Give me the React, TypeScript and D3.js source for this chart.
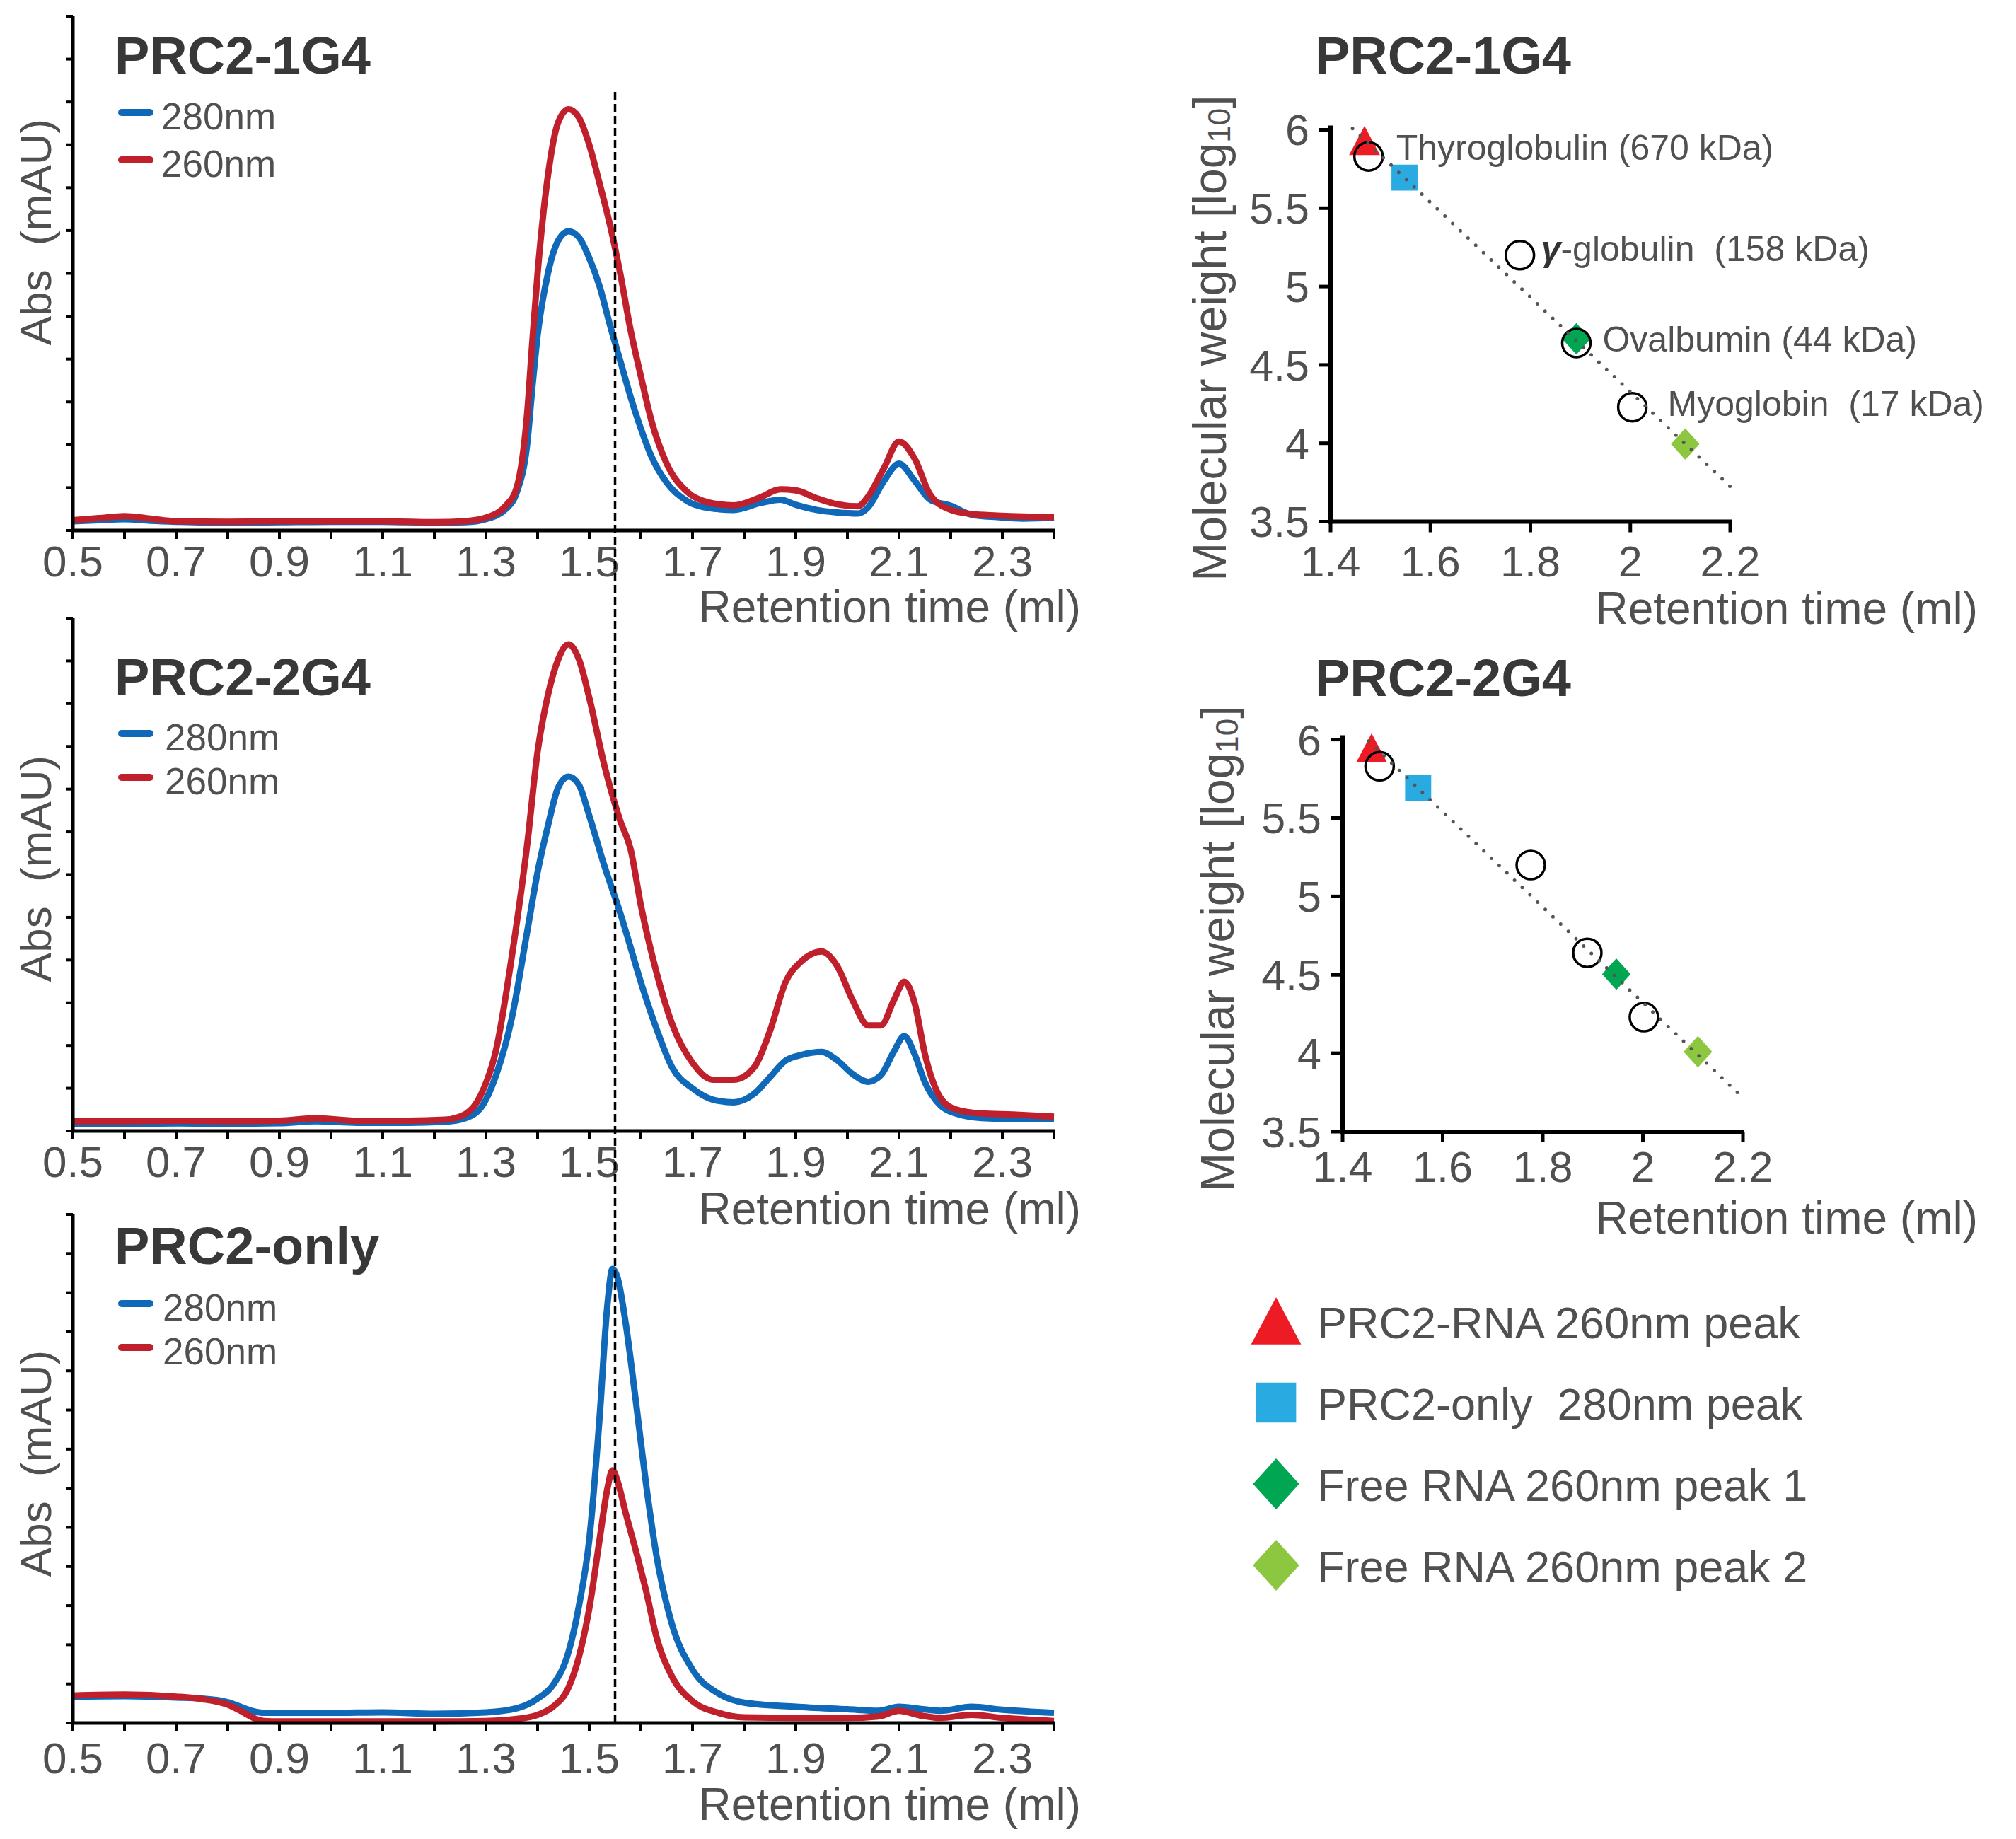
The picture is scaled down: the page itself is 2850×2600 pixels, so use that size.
import React from "react";
import * as d3 from "d3";

// ---- chromatograms (Abs, arbitrary units, 0-100 = axis height) ----
const time1 = [0.5, 0.55, 0.6, 0.65, 0.7, 0.8, 0.9, 1.0, 1.1, 1.2, 1.26, 1.3, 1.34, 1.36, 1.38, 1.39, 1.4, 1.42, 1.44, 1.46, 1.48, 1.5, 1.52, 1.54, 1.56, 1.58, 1.6, 1.62, 1.65, 1.69, 1.73, 1.78, 1.83, 1.87, 1.9, 1.94, 1.98, 2.02, 2.04, 2.07, 2.1, 2.13, 2.16, 2.2, 2.24, 2.29, 2.34, 2.4];
const abs280_1 = [1.8, 2.0, 2.2, 1.9, 1.7, 1.5, 1.6, 1.7, 1.7, 1.5, 1.6, 2.2, 4.3, 7.5, 17, 28, 38, 50, 56.4, 58.2, 57, 53, 47.5, 40, 33, 26, 19.8, 14.5, 9.3, 5.7, 4.4, 4.0, 5.3, 6.0, 5.0, 4.0, 3.5, 3.3, 4.5, 9.5, 13.0, 9.7, 6.0, 4.8, 3.1, 2.6, 2.3, 2.5];
const abs260_1 = [2.0, 2.4, 2.8, 2.3, 1.8, 1.7, 1.8, 1.8, 1.8, 1.6, 1.8, 2.5, 5.0, 8.5, 23, 37, 50, 69, 79.4, 81.9, 80.3, 75, 67.5, 59.5, 50, 39, 30, 21.5, 13, 7.5, 5.5, 4.9, 6.4, 8.0, 7.8, 6.3, 5.1, 4.7, 6.6, 12, 17.3, 14, 7.0, 4.0, 3.2, 2.9, 2.7, 2.6];

const time2 = [0.5, 0.6, 0.7, 0.8, 0.9, 0.97, 1.05, 1.15, 1.22, 1.26, 1.29, 1.32, 1.35, 1.38, 1.4, 1.42, 1.44, 1.46, 1.48, 1.5, 1.53, 1.56, 1.58, 1.6, 1.63, 1.66, 1.7, 1.74, 1.78, 1.82, 1.85, 1.88, 1.91, 1.95, 1.98, 2.01, 2.04, 2.065, 2.09, 2.11, 2.13, 2.15, 2.18, 2.21, 2.26, 2.32, 2.4];
const abs280_2 = [1.4, 1.4, 1.5, 1.4, 1.5, 1.9, 1.6, 1.6, 1.8, 2.5, 4.5, 11, 22, 39, 50.5, 59.5, 67, 69.1, 67.5, 61.5, 51.5, 42.5, 35.8, 29, 20, 12.5, 8.3, 6.1, 5.6, 7.3, 10.5, 13.7, 14.8, 15.4, 13.8, 11.1, 9.6, 10.9, 15.5, 18.5, 15, 9.5, 5.0, 3.4, 2.5, 2.3, 2.3];
const abs260_2 = [1.9, 1.9, 2.0, 1.9, 2.0, 2.5, 2.0, 2.0, 2.2, 3.3, 7, 16, 34, 56, 74, 85, 92, 94.9, 92, 84.5, 71, 60.5, 55, 44, 31, 21, 13.3, 10, 10, 12.5, 19.5, 29, 33, 35, 32.2, 25.5, 20.6, 20.6, 25.5, 29.1, 25, 15, 6.5, 4.2, 3.4, 3.2, 2.8];

const time3 = [0.5, 0.6, 0.7, 0.75, 0.8, 0.83, 0.85, 0.87, 0.9, 1.0, 1.1, 1.2, 1.3, 1.36, 1.4, 1.43, 1.46, 1.48, 1.5, 1.52, 1.535, 1.545, 1.555, 1.57, 1.59, 1.61, 1.63, 1.66, 1.7, 1.75, 1.8, 1.9, 2.0, 2.06, 2.1, 2.14, 2.18, 2.24, 2.3, 2.4];
const abs280_3 = [5.2, 5.3, 5.0, 4.8, 4.1, 3.0, 2.3, 2.0, 2.0, 2.0, 2.1, 1.8, 2.1, 2.9, 4.8, 7.5, 14, 23, 36, 60, 82, 89.3, 87.5, 79, 63.5, 47, 33, 19.5, 10.5, 5.8, 4.0, 3.2, 2.7, 2.4, 3.2, 2.8, 2.4, 3.2, 2.6, 2.0];
const abs260_3 = [5.4, 5.6, 5.2, 4.7, 3.6, 2.1, 1.0, 0.4, 0.3, 0.3, 0.3, 0.3, 0.4, 0.8, 1.6, 3.2, 7, 13, 22.5, 36, 46, 49.7, 47.5, 41.5, 34, 26, 17, 9.2, 4.3, 2.0, 1.1, 1.0, 1.0, 1.3, 2.4, 1.5, 1.0, 1.6, 1.0, 0.4];

const chromMinorTicks = [0.5, 0.6, 0.7, 0.8, 0.9, 1.0, 1.1, 1.2, 1.3, 1.4, 1.5, 1.6, 1.7, 1.8, 1.9, 2.0, 2.1, 2.2, 2.3, 2.4];
const chromTickLabels = [0.5, 0.7, 0.9, 1.1, 1.3, 1.5, 1.7, 1.9, 2.1, 2.3];
const referenceTime = 1.55;

// ---- calibration (log10 MW vs retention) ----
const standardNames = ["Thyroglobulin (670 kDa)", "-globulin  (158 kDa)", "Ovalbumin (44 kDa)", "Myoglobin  (17 kDa)"];
const standardLogMW = [5.83, 5.2, 4.64, 4.23];
const standardRT_1G4 = [1.476, 1.779, 1.892, 2.004];
const standardRT_2G4 = [1.474, 1.776, 1.889, 2.002];

const sampleNames = ["PRC2-RNA 260nm peak", "PRC2-only  280nm peak", "Free RNA 260nm peak 1", "Free RNA 260nm peak 2"];
const sampleRT_1G4 = [1.468, 1.548, 1.892, 2.11];
const sampleMW_1G4 = [5.93, 5.695, 4.667, 3.995];
const sampleRT_2G4 = [1.458, 1.551, 1.947, 2.11];
const sampleMW_2G4 = [5.945, 5.69, 4.504, 4.01];

const fitRT_1G4 = [1.444, 2.2];
const fitMW_1G4 = [6.008, 3.724];
const fitRT_2G4 = [1.452, 2.2];
const fitMW_2G4 = [5.99, 3.716];

const calXTicks = [1.4, 1.6, 1.8, 2, 2.2];
const calYTicks = [3.5, 4, 4.5, 5, 5.5, 6];

const FONT = "'Liberation Sans', Arial, Helvetica, sans-serif";
const GRAY = "#505050";
const TITLE = "#383838";
const BLUE = "#1069b8";
const RED = "#c0202b";
const sampleColors = ["#ed1c24", "#29abe2", "#00a651", "#8dc63f"];
const sampleShapes = ["triangle", "square", "diamond", "diamond"];

function markerPath(shape: string, cx: number, cy: number, s: number) {
  const p = d3.path();
  if (shape === "triangle") {
    p.moveTo(cx, cy - s * 0.5);
    p.lineTo(cx + s * 0.52, cy + s * 0.48);
    p.lineTo(cx - s * 0.52, cy + s * 0.48);
    p.closePath();
  } else if (shape === "square") {
    const h = s * 0.45;
    p.rect(cx - h, cy - h, 2 * h, 2 * h);
  } else {
    p.moveTo(cx, cy - s * 0.53);
    p.lineTo(cx + s * 0.48, cy);
    p.lineTo(cx, cy + s * 0.53);
    p.lineTo(cx - s * 0.48, cy);
    p.closePath();
  }
  return p.toString();
}

interface ChromProps {
  title: string;
  time: number[];
  a280: number[];
  a260: number[];
  top: number;
  bottom: number;
  nTicks: number;
  titleY: number;
  legY: number[];
  legTextX: number;
  yLabelY: number;
  tickLabelY: number;
  xLabelY: number;
}

const X0 = 103;
const X1 = 1490;
const xChrom = d3.scaleLinear().domain([0.5, 2.4]).range([X0, X1]);

const ChromPanel: React.FC<ChromProps> = (p) => {
  const y = d3.scaleLinear().domain([0, 100]).range([p.bottom, p.top]);
  const line = (vals: number[]) =>
    d3
      .line<number>()
      .x((_, i) => xChrom(p.time[i]))
      .y((d) => y(d))
      .curve(d3.curveMonotoneX)(vals) || "";
  const yTicks = d3.range(p.nTicks + 1).map((i) => (i * 100) / p.nTicks);
  return (
    <g>
      <path d={line(p.a280)} fill="none" stroke={BLUE} strokeWidth={9} strokeLinejoin="round" />
      <path d={line(p.a260)} fill="none" stroke={RED} strokeWidth={9} strokeLinejoin="round" />
      {/* axes */}
      <line x1={X0} x2={X0} y1={p.top} y2={p.bottom + 2} stroke="#000" strokeWidth={5} />
      <line x1={X0 - 2} x2={X1 + 2} y1={p.bottom} y2={p.bottom} stroke="#000" strokeWidth={5} />
      {yTicks.map((t) => (
        <line key={t} x1={X0 - 9} x2={X0} y1={y(t)} y2={y(t)} stroke="#000" strokeWidth={4} />
      ))}
      {chromMinorTicks.map((t) => (
        <line key={t} x1={xChrom(t)} x2={xChrom(t)} y1={p.bottom} y2={p.bottom + 12} stroke="#000" strokeWidth={4} />
      ))}
      {chromTickLabels.map((t) => (
        <text key={t} x={xChrom(t)} y={p.tickLabelY} textAnchor="middle" fontSize={62} fill={GRAY}>
          {t.toFixed(1)}
        </text>
      ))}
      <text x={1528} y={p.xLabelY} textAnchor="end" fontSize={64} fill={GRAY}>
        Retention time (ml)
      </text>
      <text
        transform={`translate(50,${p.yLabelY}) rotate(-90)`}
        textAnchor="middle"
        dominantBaseline="central"
        fontSize={62}
        fill={GRAY}
        style={{ whiteSpace: "pre" }}
      >
        Abs  (mAU)
      </text>
      <text x={162} y={p.titleY} fontSize={74} fontWeight="bold" fill={TITLE}>
        {p.title}
      </text>
      {[
        { label: "280nm", color: BLUE },
        { label: "260nm", color: RED },
      ].map((l, i) => (
        <g key={l.label}>
          <line x1={172} x2={212} y1={p.legY[i]} y2={p.legY[i]} stroke={l.color} strokeWidth={10} strokeLinecap="round" />
          <text x={p.legTextX} y={p.legY[i] + 24} fontSize={53} fill={GRAY}>
            {l.label}
          </text>
        </g>
      ))}
    </g>
  );
};

interface CalProps {
  title: string;
  titleY: number;
  x0: number;
  x1: number;
  top: number;
  bottom: number;
  stdRT: number[];
  sRT: number[];
  sMW: number[];
  fitRT: number[];
  fitMW: number[];
  yLabelX: number;
  yLabelY: number;
  tickLabelY: number;
  xLabelY: number;
  showNames: boolean;
}

const labelOffsets = [
  [39, 5],
  [30, 8],
  [37, 12],
  [50, 12],
];

const CalPanel: React.FC<CalProps> = (p) => {
  const x = d3.scaleLinear().domain([1.4, 2.2]).range([p.x0, p.x1]);
  const y = d3.scaleLinear().domain([3.5, 6]).range([p.bottom, p.top]);
  const fit = d3
    .line<number>()
    .x((_, i) => x(p.fitRT[i]))
    .y((d) => y(d))(p.fitMW) || "";
  return (
    <g>
      <line x1={p.x0} x2={p.x0} y1={p.top - 6} y2={p.bottom + 3} stroke="#000" strokeWidth={6} />
      <line x1={p.x0 - 3} x2={p.x1 + 2} y1={p.bottom} y2={p.bottom} stroke="#000" strokeWidth={6} />
      {calYTicks.map((t) => (
        <g key={t}>
          <line x1={p.x0 - 17} x2={p.x0} y1={y(t)} y2={y(t)} stroke="#000" strokeWidth={5} />
          <text x={p.x0 - 30} y={y(t)} dy="0.36em" textAnchor="end" fontSize={61} fill={GRAY}>
            {String(t)}
          </text>
        </g>
      ))}
      {calXTicks.map((t) => (
        <g key={t}>
          <line x1={x(t)} x2={x(t)} y1={p.bottom} y2={p.bottom + 15} stroke="#000" strokeWidth={5} />
          <text x={x(t)} y={p.tickLabelY} textAnchor="middle" fontSize={61} fill={GRAY}>
            {String(t)}
          </text>
        </g>
      ))}
      <text x={2796} y={p.xLabelY} textAnchor="end" fontSize={64} fill={GRAY}>
        Retention time (ml)
      </text>
      <text
        transform={`translate(${p.yLabelX},${p.yLabelY}) rotate(-90)`}
        textAnchor="middle"
        dominantBaseline="central"
        fontSize={66}
        fill={GRAY}
      >
        Molecular weight [log
        <tspan fontSize={44} dy={13}>
          10
        </tspan>
        <tspan dy={-13}>]</tspan>
      </text>
      <text x={1859} y={p.titleY} fontSize={74} fontWeight="bold" fill={TITLE}>
        {p.title}
      </text>
      {p.sRT.map((rt, i) => (
        <path key={i} d={markerPath(sampleShapes[i], x(rt), y(p.sMW[i]), sampleShapes[i] === "square" ? 41 : 42)} fill={sampleColors[i]} />
      ))}
      {p.stdRT.map((rt, i) => (
        <circle key={i} cx={x(rt)} cy={y(standardLogMW[i])} r={20} fill="none" stroke="#000" strokeWidth={3.5} />
      ))}
      <path d={fit} fill="none" stroke="#555" strokeWidth={5} strokeDasharray="0 15" strokeLinecap="round" />
      {p.showNames &&
        p.stdRT.map((rt, i) => (
          <text
            key={i}
            x={x(rt) + labelOffsets[i][0]}
            y={y(standardLogMW[i]) + labelOffsets[i][1]}
            fontSize={50}
            fill={GRAY}
            style={{ whiteSpace: "pre" }}
          >
            {i === 1 && (
              <tspan fontWeight="bold" fontStyle="italic" fill="#333">
                γ
              </tspan>
            )}
            {standardNames[i]}
          </text>
        ))}
    </g>
  );
};

const App: React.FC = () => {
  const legendY = [1868, 1983, 2098, 2213];
  return (
    <svg
      width={2850}
      height={2600}
      viewBox="0 0 2850 2600"
      style={{ position: "absolute", left: 0, top: 0, background: "#fff" }}
      fontFamily={FONT}
    >
      <rect width={2850} height={2600} fill="#fff" />
      <ChromPanel
        title="PRC2-1G4"
        time={time1}
        a280={abs280_1}
        a260={abs260_1}
        top={23}
        bottom={750}
        nTicks={12}
        titleY={104}
        legY={[159, 226]}
        legTextX={228}
        yLabelY={328}
        tickLabelY={815}
        xLabelY={880}
      />
      <ChromPanel
        title="PRC2-2G4"
        time={time2}
        a280={abs280_2}
        a260={abs260_2}
        top={874}
        bottom={1599}
        nTicks={12}
        titleY={983}
        legY={[1037, 1099]}
        legTextX={233}
        yLabelY={1228}
        tickLabelY={1664}
        xLabelY={1731}
      />
      <ChromPanel
        title="PRC2-only"
        time={time3}
        a280={abs280_3}
        a260={abs260_3}
        top={1717}
        bottom={2436}
        nTicks={13}
        titleY={1787}
        legY={[1843, 1905]}
        legTextX={230}
        yLabelY={2069}
        tickLabelY={2507}
        xLabelY={2573}
      />
      <line
        x1={xChrom(referenceTime)}
        x2={xChrom(referenceTime)}
        y1={130}
        y2={2436}
        stroke="#000"
        strokeWidth={3.5}
        strokeDasharray="11 6"
      />
      <CalPanel
        title="PRC2-1G4"
        titleY={104}
        x0={1881}
        x1={2446}
        top={183.5}
        bottom={737.5}
        stdRT={standardRT_1G4}
        sRT={sampleRT_1G4}
        sMW={sampleMW_1G4}
        fitRT={fitRT_1G4}
        fitMW={fitMW_1G4}
        yLabelX={1710}
        yLabelY={478}
        tickLabelY={815}
        xLabelY={882}
        showNames={true}
      />
      <CalPanel
        title="PRC2-2G4"
        titleY={984}
        x0={1898}
        x1={2464}
        top={1045.6}
        bottom={1600}
        stdRT={standardRT_2G4}
        sRT={sampleRT_2G4}
        sMW={sampleMW_2G4}
        fitRT={fitRT_2G4}
        fitMW={fitMW_2G4}
        yLabelX={1721}
        yLabelY={1341}
        tickLabelY={1671}
        xLabelY={1744}
        showNames={false}
      />
      {sampleNames.map((name, i) => (
        <g key={name}>
          <path d={markerPath(sampleShapes[i], 1804, legendY[i], sampleShapes[i] === "square" ? 63 : 68)} fill={sampleColors[i]} />
          <text x={1862} y={legendY[i] + 24} fontSize={63} fill={GRAY} style={{ whiteSpace: "pre" }}>
            {name}
          </text>
        </g>
      ))}
    </svg>
  );
};

export default App;
